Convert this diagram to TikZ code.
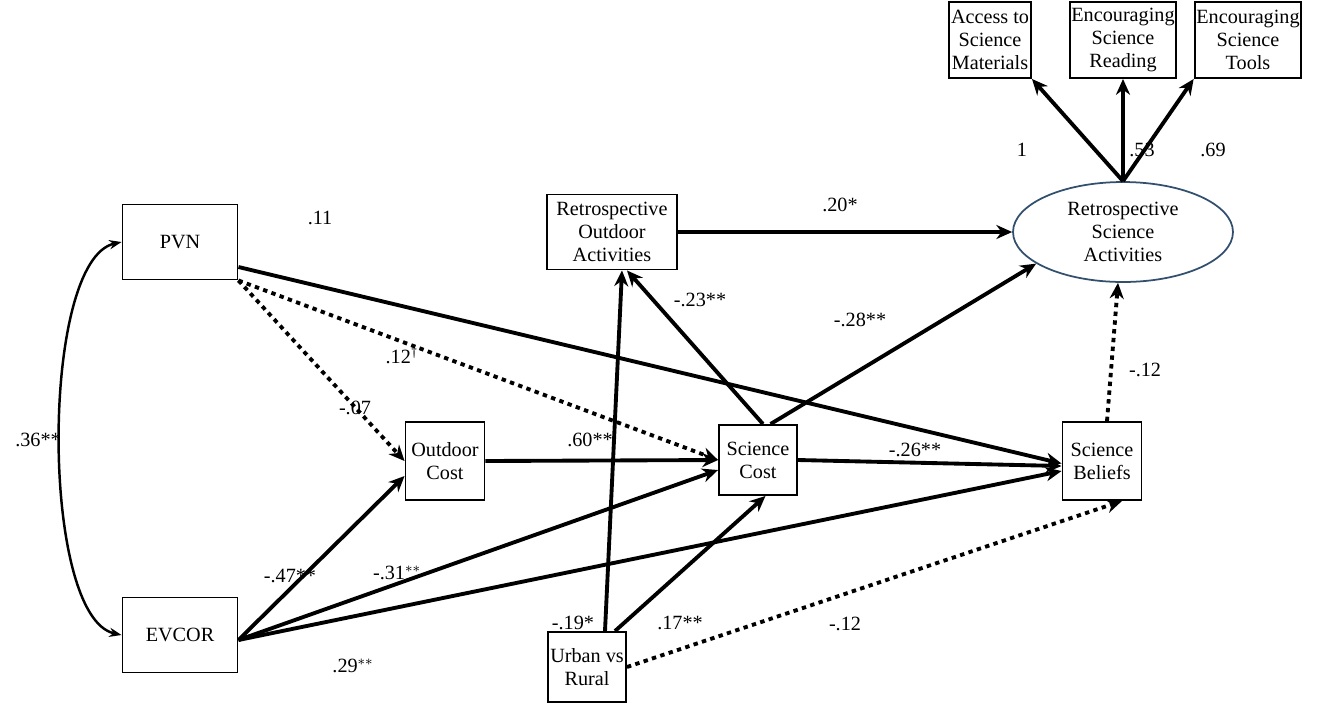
\documentclass[tikz,border=0pt]{standalone}
\usepackage{fontspec}
\setmainfont{Liberation Serif}
\usetikzlibrary{shapes.geometric,arrows.meta}
\definecolor{ellc}{RGB}{50,80,110}
\begin{document}
\begin{tikzpicture}[x=0.02cm,y=-0.02cm,
 box/.style={draw,line width=1.1pt,align=center,font=\fontsize{11.5}{13}\selectfont,inner sep=1pt},
 arr/.style={line width=2.2pt,-{Stealth[length=9pt,width=8pt]}},
 dot/.style={arr,dash pattern=on 2.5pt off 2.5pt},
 lab/.style={font=\fontsize{11.5}{13}\selectfont}]
\useasboundingbox (0,0) rectangle (1325,708);
\node[box,minimum width=2.3cm,minimum height=1.5cm] (pvn) at (180,242) {PVN};
\node[box,minimum width=2.3cm,minimum height=1.5cm] (ev) at (180,635) {EVCOR};
\node[box,minimum width=1.58cm,minimum height=1.56cm] (oc) at (445,461) {Outdoor\\Cost};
\node[box,minimum width=1.56cm,minimum height=1.4cm] (sc) at (758,460) {Science\\Cost};
\node[box,minimum width=1.58cm,minimum height=1.56cm] (sb) at (1102,461) {Science\\Beliefs};
\node[box,minimum width=2.6cm,minimum height=1.5cm] (ro) at (612,232) {Retrospective\\Outdoor\\Activities};
\node[box,minimum width=1.56cm,minimum height=1.4cm] (ur) at (587,667) {Urban vs\\Rural};
\node[draw=ellc,line width=1pt,ellipse,minimum width=4.4cm,minimum height=2cm,align=center,font=\fontsize{11.5}{13}\selectfont,inner sep=0pt] (rs) at (1123,232) {Retrospective\\Science\\Activities};
\node[box,minimum width=1.64cm,minimum height=1.52cm] (i1) at (990,40) {Access to\\Science\\Materials};
\node[box,minimum width=1.8cm,minimum height=1.52cm] (i2) at (1123,40) {Encouraging\\Science\\Reading};
\node[box,minimum width=1.8cm,minimum height=1.52cm] (i3) at (1248,40) {Encouraging\\Science\\Tools};
\coordinate (evo) at ([yshift=-0.1cm]ev.east);
% indicators
\draw[arr] (rs.north) -- (i1.south east);
\draw[arr] (rs.north) -- (i2.south);
\draw[arr] (rs.north) -- (i3.south west);
\node[lab] at (1022,150) {1};
\node[lab] at (1142,150) {.53};
\node[lab] at (1213,150) {.69};
% correlation
\draw[line width=1.4pt,{Stealth[length=7pt]}-{Stealth[length=7pt]}] (pvn.west) .. controls (40,260) and (40,617) .. (ev.west);
\node[lab] at (38,440) {.36**};
% paths
\draw[arr] ([yshift=-0.5cm]pvn.east) -- ([yshift=-0.05cm]sb.west);
\node[lab] at (320,218) {.11};
\draw[dot] (pvn.south east) -- (oc.west);
\node[lab] at (355,408) {-.07};
\draw[dot] (pvn.south east) -- (sc.west);
\node[lab] at (402,355) {.12$^{\dagger}$};
\draw[arr] (oc.east) -- (sc.west);
\node[lab] at (590,440) {.60**};
\draw[arr] (sc.east) -- ([yshift=-0.1cm]sb.west);
\node[lab] at (915,450) {-.26**};
\draw[arr] (evo) -- ([yshift=-0.3cm]oc.west);
\node[lab] at (290,576) {-.47**};
\draw[arr] (evo) -- ([yshift=-0.2cm]sc.west);
\node[lab] at (397,573) {-.31$^{**}$};
\draw[arr] (evo) -- ([yshift=-0.2cm]sb.west);
\node[lab] at (353,666) {.29$^{**}$};
\draw[arr] ([xshift=0.36cm]ur.north) -- ([xshift=0.2cm]ro.south);
\node[lab] at (573,623) {-.19*};
\draw[arr] ([xshift=0.56cm]ur.north) -- ([xshift=0.15cm]sc.south);
\node[lab] at (680,623) {.17**};
\draw[dot] (ur.east) -- ([xshift=0.4cm]sb.south);
\node[lab] at (845,624) {-.12};
\draw[arr] ([xshift=0.1cm]sc.north) -- ([xshift=0.3cm]ro.south);
\node[lab] at (700,300) {-.23**};
\draw[arr] ([xshift=0.25cm]sc.north) -- (rs.200);
\node[lab] at (860,320) {-.28**};
\draw[arr] (ro.east) -- (rs.west);
\node[lab] at (840,205) {.20*};
\draw[dot] ([xshift=0.1cm]sb.north) -- ([xshift=-0.1cm]rs.south);
\node[lab] at (1145,370) {-.12};
\end{tikzpicture}
\end{document}
